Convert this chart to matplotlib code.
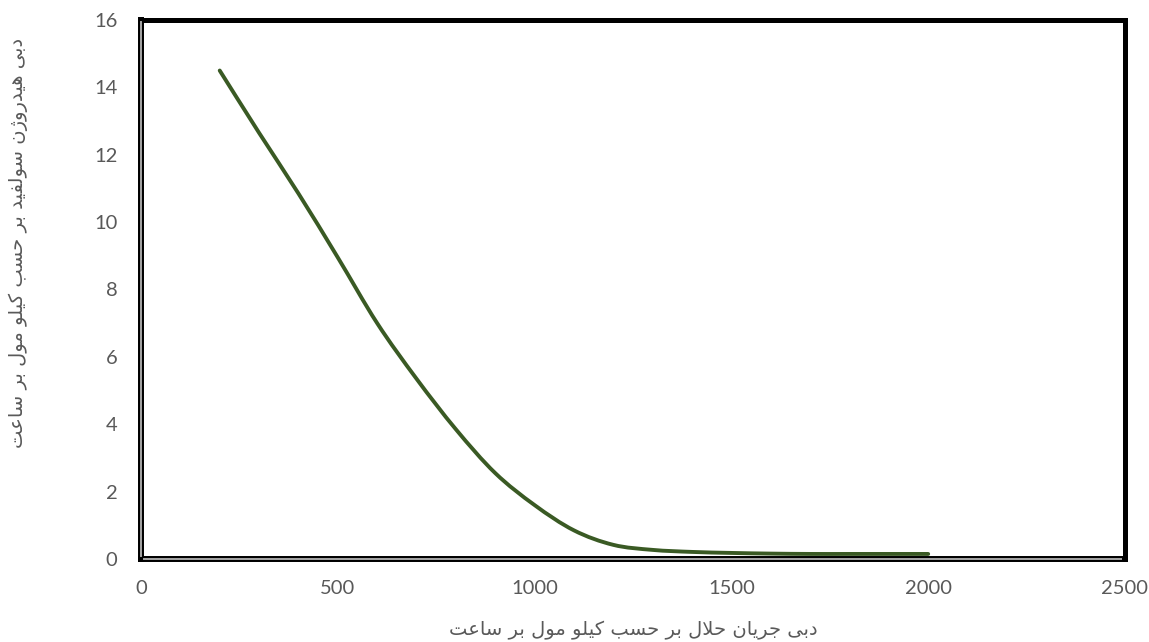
import numpy as np
import matplotlib
matplotlib.use("Agg")
import matplotlib.pyplot as plt
from matplotlib.path import Path
from matplotlib.patches import PathPatch

# solvent flow (kmol/h) vs. H2S flow (kmol/h)
solvent_flow = [200, 300, 400, 500, 600, 700, 800, 900, 1000, 1100,
                1200, 1300, 1400, 1500, 1600, 1700, 1800, 1900, 2000]
h2s_flow = [14.5, 12.65, 10.85, 8.95, 7.0, 5.35, 3.85, 2.55, 1.6, 0.85,
            0.42, 0.27, 0.21, 0.18, 0.16, 0.15, 0.15, 0.15, 0.15]

x_ticks = [0, 500, 1000, 1500, 2000, 2500]
y_ticks = [0, 2, 4, 6, 8, 10, 12, 14, 16]

x_title = "دبی جریان حلال بر حسب کیلو مول بر ساعت"
y_title = "دبی هیدروژن سولفید بر حسب کیلو مول بر ساعت"

# contextual forms: isolated, final, initial, medial
FORMS = {
    "ا": (0xFE8D, 0xFE8E), "د": (0xFEA9, 0xFEAA), "ر": (0xFEAD, 0xFEAE),
    "ژ": (0xFB8A, 0xFB8B), "و": (0xFEED, 0xFEEE),
    "ب": (0xFE8F, 0xFE90, 0xFE91, 0xFE92), "ی": (0xFBFC, 0xFBFD, 0xFBFE, 0xFBFF),
    "ه": (0xFEE9, 0xFEEA, 0xFEEB, 0xFEEC), "ن": (0xFEE5, 0xFEE6, 0xFEE7, 0xFEE8),
    "س": (0xFEB1, 0xFEB2, 0xFEB3, 0xFEB4), "ل": (0xFEDD, 0xFEDE, 0xFEDF, 0xFEE0),
    "ف": (0xFED1, 0xFED2, 0xFED3, 0xFED4), "ح": (0xFEA1, 0xFEA2, 0xFEA3, 0xFEA4),
    "ک": (0xFB8E, 0xFB8F, 0xFB90, 0xFB91), "م": (0xFEE1, 0xFEE2, 0xFEE3, 0xFEE4),
    "ع": (0xFEC9, 0xFECA, 0xFECB, 0xFECC), "ت": (0xFE95, 0xFE96, 0xFE97, 0xFE98),
    "ج": (0xFE9D, 0xFE9E, 0xFE9F, 0xFEA0),
}


def shape(text):
    out = []
    i = 0
    n = len(text)
    while i < n:
        c = text[i]
        if c not in FORMS:
            out.append(c)
            i += 1
            continue
        prev = text[i - 1] if i > 0 else " "
        joins_prev = prev in FORMS and len(FORMS[prev]) == 4
        nxt = text[i + 1] if i + 1 < n else " "
        if c == "ل" and nxt == "ا":
            out.append(chr(0xFEFC if joins_prev else 0xFEFB))
            i += 2
            continue
        joins_next = len(FORMS[c]) == 4 and nxt in FORMS
        f = FORMS[c]
        if joins_prev and joins_next:
            out.append(chr(f[3]))
        elif joins_prev:
            out.append(chr(f[1]))
        elif joins_next:
            out.append(chr(f[2]))
        else:
            out.append(chr(f[0]))
        i += 1
    return "".join(out)[::-1]


def smooth_path(xs, ys, t=1 / 6):
    # cubic bezier through the points, like a smoothed spreadsheet line
    pts = np.column_stack([xs, ys]).astype(float)
    verts = [pts[0]]
    codes = [Path.MOVETO]
    for k in range(len(pts) - 1):
        p0 = pts[k - 1] if k > 0 else pts[k]
        p1 = pts[k]
        p2 = pts[k + 1]
        p3 = pts[k + 2] if k + 2 < len(pts) else pts[k + 1]
        c1 = p1 + (p2 - p0) * t
        c2 = p2 - (p3 - p1) * t
        verts += [c1, c2, p2]
        codes += [Path.CURVE4] * 3
    return Path(verts, codes)


plt.rcParams["font.family"] = ["Lato", "DejaVu Sans"]

fig = plt.figure(figsize=(11.49, 6.42), dpi=100)
ax = fig.add_axes([141 / 1149, 1 - 559 / 642, 984 / 1149, 539 / 642])

line_color = "#3a5a24"
ax.add_patch(PathPatch(smooth_path(solvent_flow, h2s_flow), facecolor="none",
                       edgecolor=line_color, linewidth=2.8, capstyle="round",
                       zorder=3))

ax.set_xlim(0, 2500)
ax.set_ylim(0, 16)
ax.set_xticks(x_ticks)
ax.set_yticks(y_ticks)
ax.tick_params(length=0, labelsize=14.5, labelcolor="#595959")
ax.tick_params(axis="x", pad=15)
ax.tick_params(axis="y", pad=17)
for s in ax.spines.values():
    s.set_visible(False)

# frame: thick black on top/right, double line on left/bottom
kw = dict(transform=ax.transAxes, clip_on=False, solid_capstyle="projecting", zorder=5)
ax.plot([0, 1], [1, 1], color="black", linewidth=3.6, **kw)
ax.plot([1, 1], [0, 1], color="black", linewidth=3.6, **kw)
ax.plot([0, 1], [0, 0], color="black", linewidth=4.3, **kw)
ax.plot([0, 0], [0, 1], color="black", linewidth=4.3, **kw)
ax.plot([0.003, 0.996], [0, 0], color="#a6a6a6", linewidth=1.4, zorder=6,
        transform=ax.transAxes, clip_on=False)
ax.plot([0, 0], [0.005, 0.996], color="#a6a6a6", linewidth=1.4, zorder=6,
        transform=ax.transAxes, clip_on=False)

fig.text(633 / 1149, 1 - 630 / 642, shape(x_title), ha="center", va="center",
         fontsize=14, color="#595959", family="DejaVu Sans")
fig.text(18 / 1149, 1 - 243 / 642, shape(y_title), ha="center", va="center",
         rotation=90, fontsize=14, color="#595959", family="DejaVu Sans")

fig.savefig("out.png", dpi=100, facecolor="white")
